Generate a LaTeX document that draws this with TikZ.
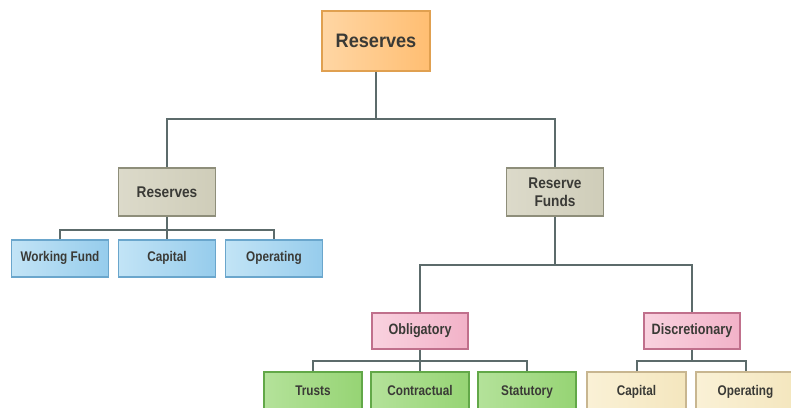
\documentclass[tikz,border=0pt]{standalone}
\usepackage{fontspec}
\setmainfont{Liberation Sans}[FakeStretch=0.84]
\newfontfamily\fontTop{Liberation Sans}[FakeStretch=0.93]
\newfontfamily\fontMid{Liberation Sans}[FakeStretch=0.88]
\newfontfamily\fontLeaf{Liberation Sans}[FakeStretch=0.84]
\definecolor{txt}{HTML}{3A3A36}
\definecolor{orL}{HTML}{FFD6A4}
\definecolor{orR}{HTML}{FFBE72}
\definecolor{orB}{HTML}{E0A050}
\definecolor{mdL}{HTML}{DCDACA}
\definecolor{mdR}{HTML}{CFCDB9}
\definecolor{mdB}{HTML}{8E8E7A}
\definecolor{blL}{HTML}{C2E4F6}
\definecolor{blR}{HTML}{96CCEC}
\definecolor{blB}{HTML}{6AA6CC}
\definecolor{pkL}{HTML}{F9D2DF}
\definecolor{pkR}{HTML}{F2B2C8}
\definecolor{pkB}{HTML}{C0708C}
\definecolor{grL}{HTML}{B4E29A}
\definecolor{grR}{HTML}{96D474}
\definecolor{grB}{HTML}{62A848}
\definecolor{crL}{HTML}{FAF1D6}
\definecolor{crR}{HTML}{F4E6BE}
\definecolor{crB}{HTML}{C8B690}
\definecolor{ln}{HTML}{5C6B6B}
\begin{document}
\begin{tikzpicture}[x=1pt,y=-1pt,
  box/.style={draw, line width=1.4pt, minimum height=#1, inner sep=1pt, align=center, text=txt},
  leaf/.style={text height=1.5ex, text depth=0.35ex},
  topbox/.style={box=60, minimum width=108, draw=orB, left color=orL, right color=orR, font=\fontTop\bfseries\fontsize{19.5}{22}\selectfont},
  midbox/.style={box=48, minimum width=97, draw=mdB, left color=mdL, right color=mdR, font=\fontMid\bfseries\fontsize{15.5}{18.5}\selectfont},
  bluebox/.style={box=37, leaf, minimum width=97, draw=blB, left color=blL, right color=blR, font=\fontLeaf\bfseries\fontsize{14}{16}\selectfont},
  pinkbox/.style={box=36, leaf, minimum width=96, draw=pkB, left color=pkL, right color=pkR, font=\fontLeaf\bfseries\fontsize{15}{17}\selectfont},
  greenbox/.style={box=40, leaf, minimum width=98, draw=grB, left color=grL, right color=grR, font=\fontLeaf\bfseries\fontsize{14}{16}\selectfont},
  creambox/.style={box=40, leaf, minimum width=99, draw=crB, left color=crL, right color=crR, font=\fontLeaf\bfseries\fontsize{14}{16}\selectfont},
  conn/.style={draw=ln, line width=2pt}]
\useasboundingbox (0,0) rectangle (791,407);
\clip (0,0) rectangle (791,407);
% nodes
\node[topbox] (root) at (376,41) {Reserves};
\node[midbox] (res) at (167,192) {Reserves};
\node[midbox] (rf) at (555,192) {Reserve\\Funds};
\node[bluebox] (wf) at (60,258.5) {Working Fund};
\node[bluebox] (cap) at (167,258.5) {Capital};
\node[bluebox] (op) at (274,258.5) {Operating};
\node[pinkbox] (obl) at (420,331) {Obligatory};
\node[pinkbox] (dis) at (692,331) {Discretionary};
\node[greenbox] (tr) at (313,392) {Trusts};
\node[greenbox] (con) at (420,392) {Contractual};
\node[greenbox] (st) at (527,392) {Statutory};
\node[creambox] (dcap) at (636.5,392) {Capital};
\node[creambox] (dop) at (745.5,392) {Operating};
% connectors
\draw[conn] (root.south) |- (376,119) coordinate (j1);
\draw[conn] (res.north) |- (j1) -| (rf.north);
\draw[conn] (res.south) -- (167,230) coordinate (j2);
\draw[conn] (wf.north) |- (j2) -| (op.north);
\draw[conn] (j2) -- (cap.north);
\draw[conn] (rf.south) -- (555,265) coordinate (j3);
\draw[conn] (obl.north) |- (j3) -| (dis.north);
\draw[conn] (obl.south) -- (420,361) coordinate (j4);
\draw[conn] (tr.north) |- (j4) -| (st.north);
\draw[conn] (j4) -- (con.north);
\draw[conn] (dis.south) |- (692,361) coordinate (j5);
\draw[conn] (dcap.north) |- (j5) -| (dop.north);
\end{tikzpicture}
\end{document}
